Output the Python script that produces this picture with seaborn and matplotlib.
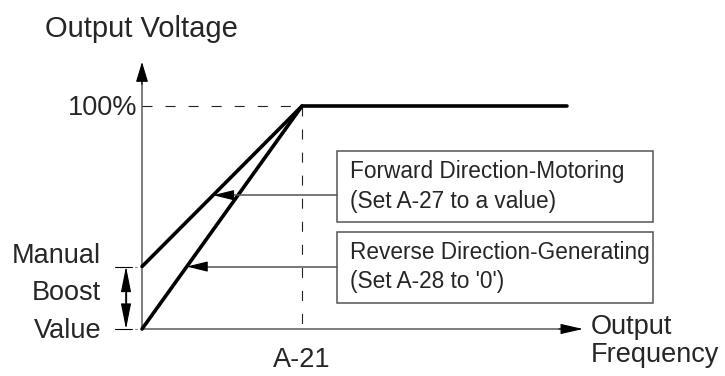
import numpy as np
import pandas as pd
import matplotlib.pyplot as plt
from matplotlib.patches import Rectangle
import seaborn as sns

# V/f pattern: frequency in multiples of A-21 (base frequency), voltage in %
boost_pct = 28
base_freq = 1.0
max_freq = 2.656
fwd_freq = [0, base_freq, max_freq]
fwd_volt = [boost_pct, 100, 100]
rev_freq = [0, base_freq]
rev_volt = [0, 100]
fwd_lead_volt = 60  # where the forward leader points on its line

fwd_label = ['Forward Direction-Motoring', '(Set A-27 to a value)']
rev_label = ['Reverse Direction-Generating', "(Set A-28 to '0')"]
boost_label = ['Manual', 'Boost', 'Value']

sns.set_style('white')
plt.rcParams['font.family'] = ['Liberation Sans', 'DejaVu Sans']
plt.rcParams['lines.scale_dashes'] = False

W, H = 725, 376
fig = plt.figure(figsize=(W / 100, H / 100), dpi=100)
ax = fig.add_axes([0, 0, 1, 1])

# pixel -> data helpers (origin at px (142, 329), A-21 = 160 px, 100 % = 223 px)
def px(x):
    return (x - 142) / 160

def py(y):
    return (329 - y) / 2.23

axis_col = '#5a5a5a'
lead_col = '#555555'


def head(x0, y0, x1, y1, length, width):
    # black filled arrow head at (x1, y1), pointing from (x0, y0)
    ax.annotate('', xy=(x1, y1), xytext=(x0, y0),
                arrowprops=dict(arrowstyle=f'-|>,head_length={length},head_width={width}',
                                mutation_scale=1, color='black', lw=0.8,
                                shrinkA=0, shrinkB=0))


# axes
y_tip = py(62)
x_tip = px(583)
ax.plot([0, 0], [0, y_tip - 5], color=axis_col, lw=1.1)
ax.plot([0, x_tip - 0.05], [0, 0], color=axis_col, lw=1.1)
head(0, y_tip - 10, 0, y_tip, 12.5, 3.8)
head(x_tip - 0.15, 0, x_tip, 0, 14, 3.2)

# dashed guides at 100 % and A-21
dash = (0, (7.2, 9.4))
ax.plot([0, base_freq], [100, 100], color='#222222', lw=0.8, ls=dash)
ax.plot([base_freq, base_freq], [100, 0], color='#222222', lw=0.8, ls=dash)

# V/f lines
df = pd.concat([
    pd.DataFrame({'freq': fwd_freq, 'volt': fwd_volt, 'curve': 'fwd'}),
    pd.DataFrame({'freq': rev_freq, 'volt': rev_volt, 'curve': 'rev'}),
])
sns.lineplot(data=df, x='freq', y='volt', hue='curve', units='curve',
             estimator=None, sort=False, palette=['black', 'black'],
             lw=2.6, legend=False, ax=ax)
ax.set_xlim(px(0), px(W))
ax.set_ylim(py(H), py(0))
ax.axis('off')

# label boxes
box_x0, box_x1 = px(337), px(653)
for top, bot in [(151, 222), (232, 303)]:
    ax.add_patch(Rectangle((box_x0, py(bot)), box_x1 - box_x0, py(top) - py(bot),
                           fill=False, ec='#555555', lw=1.1))

# leaders with arrows onto the lines
fwd_tip = np.interp(fwd_lead_volt, fwd_volt[:2], fwd_freq[:2])
rev_tip = np.interp(boost_pct, rev_volt, rev_freq)
for tip_x, tip_y in [(fwd_tip, fwd_lead_volt), (rev_tip, boost_pct)]:
    ax.plot([box_x0, tip_x + 0.05], [tip_y, tip_y], color=lead_col, lw=1.1)
    head(tip_x + 0.12, tip_y, tip_x, tip_y, 13, 3.2)

# manual boost dimension arrow
for lvl in [boost_pct, 0]:
    ax.plot([px(115), px(132)], [lvl, lvl], color='black', lw=0.8)
    ax.plot([px(135), px(136.5)], [lvl, lvl], color='#888888', lw=0.8)
ax.plot([px(126), px(126)], [3, boost_pct - 3], color='black', lw=0.9)
head(px(126), 12, px(126), boost_pct, 16, 3.2)
head(px(126), boost_pct - 12, px(126), 0, 16, 3.2)

# texts
big = 19.5
small = 16.3
ax.text(px(141), py(37), 'Output Voltage', fontsize=21, ha='center', va='baseline')
ax.text(px(137), py(115), '100%', fontsize=big, ha='right', va='baseline')
for lab, base in zip(boost_label, [263, 300, 338]):
    ax.text(px(101), py(base), lab, fontsize=big, ha='right', va='baseline')
ax.text(base_freq, py(367), 'A-21', fontsize=big, ha='center', va='baseline')
ax.text(px(591), py(334), 'Output', fontsize=big, ha='left', va='baseline')
ax.text(px(591), py(362), 'Frequency', fontsize=big, ha='left', va='baseline')

for lines, bases in [(fwd_label, [178, 208]), (rev_label, [259, 288])]:
    for lab, base in zip(lines, bases):
        ax.text(px(350), py(base), lab, fontsize=small, ha='left', va='baseline')

fig.savefig('out.png', dpi=100)
